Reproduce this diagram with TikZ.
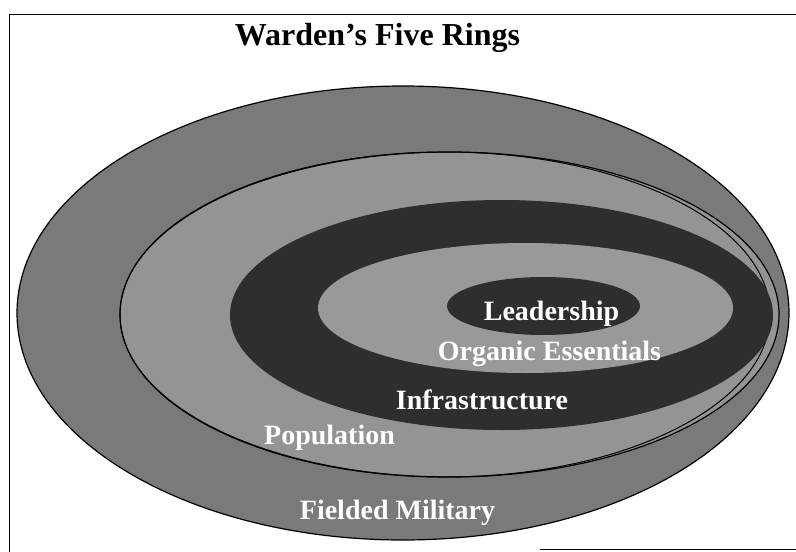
\documentclass[tikz,border=0pt]{standalone}
\usepackage{fontspec}
\setmainfont{Liberation Serif}
\usetikzlibrary{shapes.geometric}
\begin{document}
\begin{tikzpicture}[x=1pt,y=-1pt,
  ring/.style={ellipse, draw=black, line width=1.2pt, inner sep=0pt, outer sep=0pt},
  band/.style={ellipse, draw=none, inner sep=0pt, outer sep=0pt},
  lab/.style={text=white, font=\bfseries\fontsize{28}{30}\selectfont, anchor=base, inner sep=0pt},
  frameline/.style={line width=1.2pt}]
\useasboundingbox (0,0) rectangle (796,552);
% frame
\coordinate (f1) at (9.5,552);
\coordinate (f2) at (9.5,14.5);
\coordinate (f3) at (796,14.5);
\draw[frameline] (f1) -- (f2) -- (f3);
\coordinate (b1) at (540,549.5);
\coordinate (b2) at (796,549.5);
\draw[frameline] (b1) -- (b2);
% title
\node[anchor=base, font=\bfseries\fontsize{32}{35}\selectfont, inner sep=0pt] (title) at (377.5,45) {Warden’s Five Rings};
% rings
\node[ring, fill=black!52, minimum width=772pt, minimum height=454pt] (fm) at (403,313) {};
\node[ring, fill=black!42, minimum width=659pt, minimum height=325pt] (pop) at (449.5,314.5) {};
\node[ring, line width=1pt, minimum width=650pt, minimum height=325pt] (pop2) at (445,314.5) {};
\node[band, fill=black!82, minimum width=543pt, minimum height=230pt] (inf) at (501.5,315) {};
\node[band, fill=black!40, minimum width=415pt, minimum height=130pt] (org) at (525.5,308) {};
\node[band, fill=black!82, minimum width=193pt, minimum height=58pt] (lead) at (543.5,306) {};
% labels
\node[lab] (tlead) at (551.5,320) {Leadership};
\node[lab] (torg) at (549.5,360) {Organic Essentials};
\node[lab] (tinf) at (482,409) {Infrastructure};
\node[lab] (tpop) at (329.5,444) {Population};
\node[lab] (tfm) at (397.5,519) {Fielded Military};
\end{tikzpicture}
\end{document}
